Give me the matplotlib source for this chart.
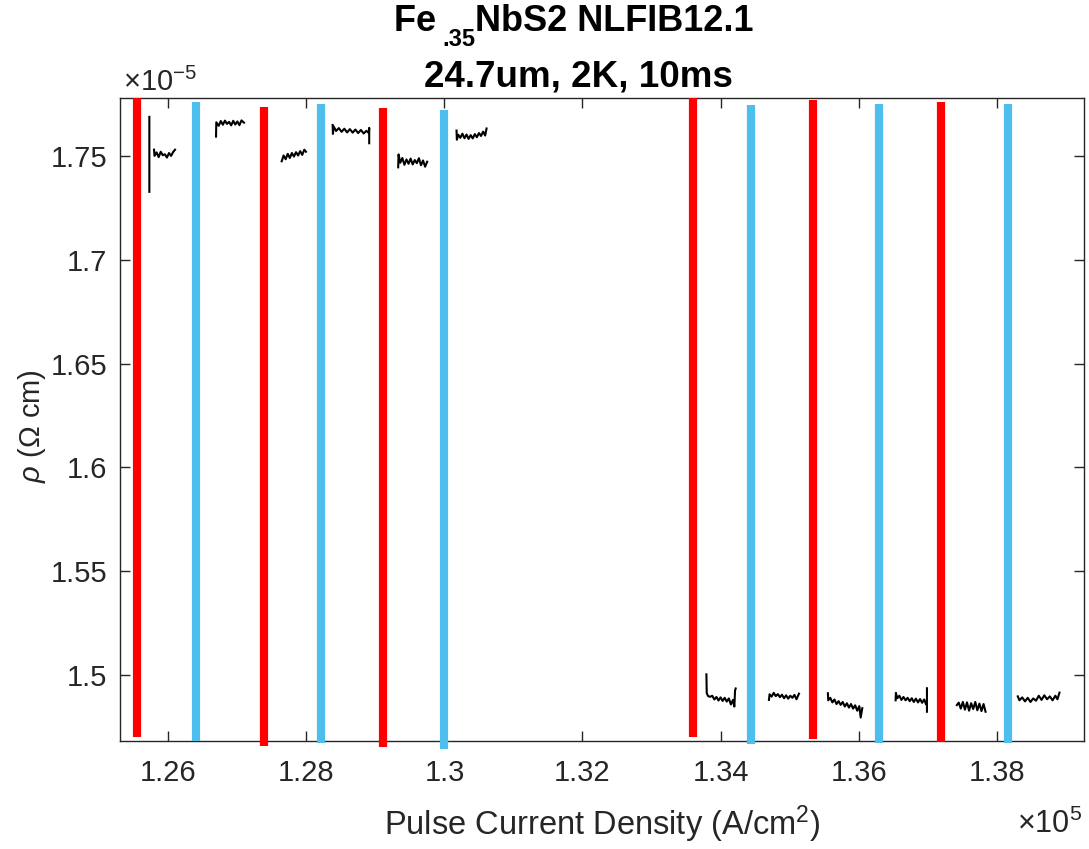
# Fe.35NbS2 pulse switching: resistivity vs pulse current density

import numpy as np
import matplotlib.pyplot as plt
from matplotlib.ticker import FuncFormatter

plt.rcParams['font.family'] = ['Liberation Sans', 'DejaVu Sans']
plt.rcParams['mathtext.fontset'] = 'custom'
plt.rcParams['mathtext.rm'] = 'Liberation Sans'
plt.rcParams['mathtext.it'] = 'Liberation Sans:italic'
plt.rcParams['mathtext.bf'] = 'Liberation Sans:bold'

nan = np.nan

# pulse markers (x in A/cm^2, rho in 1e-5 Ohm cm)
pulse_pos_x = [125540, 127386, 129116, 133600, 135338, 137199]
pulse_pos_top = [1.7779, 1.7737, 1.7733, 1.7779, 1.7771, 1.7759]
pulse_pos_bot = [1.4700, 1.4659, 1.4655, 1.4700, 1.4693, 1.4679]

pulse_neg_x = [126398, 128218, 129996, 134434, 136300, 138165]
pulse_neg_top = [1.7760, 1.7752, 1.7722, 1.7746, 1.7752, 1.7752]
pulse_neg_bot = [1.4682, 1.4674, 1.4642, 1.4668, 1.4674, 1.4674]

# resistivity readings between pulses
t1_x = [125725, 125725, nan, 125793, 125800, 125830, 125860, 125890, 125920, 125950, 125980, 126010, 126040, 126070, 126097]
t1_y = [1.7688, 1.7327, nan, 1.7530, 1.7500, 1.7517, 1.7494, 1.7520, 1.7503, 1.7508, 1.7492, 1.7514, 1.7500, 1.7519, 1.7530]

t2_x = [126691, 126695, 126730, 126760, 126790, 126820, 126850, 126880, 126910, 126940, 126970, 127000, 127030, 127060, 127096]
t2_y = [1.7593, 1.7662, 1.7645, 1.7668, 1.7650, 1.7670, 1.7654, 1.7664, 1.7647, 1.7669, 1.7651, 1.7666, 1.7648, 1.7671, 1.7660]

t3_x = [127642, 127670, 127700, 127730, 127760, 127790, 127820, 127850, 127880, 127910, 127940, 127970, 127994]
t3_y = [1.7474, 1.7502, 1.7484, 1.7510, 1.7490, 1.7514, 1.7497, 1.7518, 1.7502, 1.7523, 1.7505, 1.7530, 1.7520]

t4_x = [128380, 128385, 128395, 128430, 128470, 128510, 128550, 128590, 128630, 128670, 128710, 128750, 128790, 128830, 128870, 128905, 128910, 128910]
t4_y = [1.7649, 1.7606, 1.7642, 1.7620, 1.7634, 1.7616, 1.7631, 1.7613, 1.7629, 1.7612, 1.7627, 1.7610, 1.7625, 1.7608, 1.7621, 1.7610, 1.7635, 1.7561]

t5_x = [129330, 129335, 129360, 129390, 129420, 129450, 129480, 129510, 129540, 129570, 129600, 129630, 129660, 129690, 129720, 129750]
t5_y = [1.7445, 1.7507, 1.7467, 1.7490, 1.7457, 1.7483, 1.7462, 1.7487, 1.7459, 1.7480, 1.7465, 1.7489, 1.7455, 1.7478, 1.7448, 1.7472]

t6_x = [130175, 130180, 130200, 130230, 130260, 130290, 130320, 130350, 130380, 130410, 130440, 130470, 130500, 130530, 130560, 130590, 130610]
t6_y = [1.7622, 1.7578, 1.7602, 1.7587, 1.7607, 1.7585, 1.7603, 1.7582, 1.7600, 1.7584, 1.7605, 1.7590, 1.7610, 1.7596, 1.7617, 1.7598, 1.7632]

t7_x = [133795, 133800, 133820, 133850, 133880, 133910, 133940, 133970, 134000, 134030, 134060, 134090, 134120, 134150, 134180, 134200, 134210, 134219]
t7_y = [1.5003, 1.4912, 1.4898, 1.4895, 1.4900, 1.4882, 1.4894, 1.4877, 1.4892, 1.4875, 1.4890, 1.4872, 1.4887, 1.4858, 1.4880, 1.4848, 1.4925, 1.4935]

t8_x = [134701, 134710, 134740, 134770, 134800, 134830, 134860, 134890, 134920, 134950, 134980, 135010, 135040, 135070, 135100, 135136]
t8_y = [1.4880, 1.4907, 1.4896, 1.4914, 1.4898, 1.4908, 1.4893, 1.4905, 1.4888, 1.4902, 1.4886, 1.4900, 1.4890, 1.4904, 1.4883, 1.4910]

t9_x = [135555, 135560, 135590, 135620, 135650, 135680, 135710, 135740, 135770, 135800, 135830, 135860, 135890, 135920, 135950, 135980, 136010, 136030, 136053]
t9_y = [1.4912, 1.4878, 1.4890, 1.4868, 1.4882, 1.4860, 1.4874, 1.4856, 1.4870, 1.4848, 1.4864, 1.4843, 1.4860, 1.4838, 1.4854, 1.4828, 1.4850, 1.4795, 1.4840]

t10_x = [136536, 136540, 136560, 136590, 136620, 136650, 136680, 136710, 136740, 136770, 136800, 136830, 136860, 136890, 136920, 136950, 136975, nan, 136990, 136990]
t10_y = [1.4878, 1.4914, 1.4888, 1.4900, 1.4880, 1.4894, 1.4878, 1.4890, 1.4874, 1.4888, 1.4870, 1.4886, 1.4868, 1.4884, 1.4866, 1.4882, 1.4860, nan, 1.4936, 1.4823]

t11_x = [137423, 137450, 137480, 137510, 137540, 137570, 137600, 137630, 137660, 137690, 137720, 137750, 137780, 137810, 137839]
t11_y = [1.4855, 1.4867, 1.4838, 1.4870, 1.4833, 1.4868, 1.4828, 1.4864, 1.4836, 1.4870, 1.4830, 1.4862, 1.4826, 1.4860, 1.4823]

t12_x = [138306, 138330, 138370, 138410, 138450, 138490, 138530, 138570, 138610, 138650, 138690, 138730, 138770, 138810, 138850, 138880, 138910]
t12_y = [1.4897, 1.4878, 1.4892, 1.4873, 1.4890, 1.4870, 1.4887, 1.4876, 1.4900, 1.4880, 1.4902, 1.4883, 1.4897, 1.4878, 1.4900, 1.4883, 1.4915]

traces = [(t1_x, t1_y), (t2_x, t2_y), (t3_x, t3_y), (t4_x, t4_y), (t5_x, t5_y), (t6_x, t6_y),
          (t7_x, t7_y), (t8_x, t8_y), (t9_x, t9_y), (t10_x, t10_y), (t11_x, t11_y), (t12_x, t12_y)]

x_ticks = [126000, 128000, 130000, 132000, 134000, 136000, 138000]
y_ticks = [1.5, 1.55, 1.6, 1.65, 1.7, 1.75]

axis_col = '#262626'
W, H = 1089, 849

fig = plt.figure(figsize=(W / 100, H / 100), dpi=100)
ax = fig.add_axes([0.1102, 0.1272, 0.8852, 0.7574])

# pulse lines (drawn past the axes like in the original)
ax.vlines(pulse_pos_x, pulse_pos_bot, pulse_pos_top, colors='#FF0000', linewidth=5.9, capstyle='butt', clip_on=False, zorder=3)
ax.vlines(pulse_neg_x, pulse_neg_bot, pulse_neg_top, colors='#4DBEEE', linewidth=5.9, capstyle='butt', clip_on=False, zorder=3)

for tx, ty in traces:
    ax.plot(tx, ty, color='black', linewidth=1.5, zorder=4)

ax.set_xlim(125300, 139265)
ax.set_ylim(1.4682, 1.7779)
ax.set_xticks(x_ticks)
ax.set_yticks(y_ticks)
ax.xaxis.set_major_formatter(FuncFormatter(lambda v, p: '%g' % (v / 1e5)))
ax.yaxis.set_major_formatter(FuncFormatter(lambda v, p: '%g' % v))

ax.tick_params(direction='in', length=7, width=1, colors=axis_col, labelsize=21,
               top=True, right=True, pad=9)
ax.tick_params(axis='x', pad=13)
for s in ax.spines.values():
    s.set_color(axis_col)
    s.set_linewidth(1)

# labels
ax.set_xlabel('Pulse Current Density (A/cm$^2$)', fontsize=23.5, color=axis_col)
ax.xaxis.label.set_va('baseline')
ax.xaxis.set_label_coords(0.5, -0.146)
ax.set_ylabel(r'$\rho$ (Ω cm)', fontsize=21, color=axis_col)
ax.yaxis.label.set_va('center')
ax.yaxis.set_label_coords(-0.091, 0.49)

# exponent labels
ax.text(0.003, 1.011, r'$\times$10$^{-5}$', transform=ax.transAxes, fontsize=21,
        color=axis_col, ha='left', va='baseline')
ax.text(0.9305, -0.143, r'$\times$10$^{5}$', transform=ax.transAxes, fontsize=22,
        color=axis_col, ha='left', va='baseline')

# title, subscript placed by hand so it drops like the original
renderer = fig.canvas.get_renderer()
title_parts = ['Fe ', '.35', 'NbS2 NLFIB12.1']
part_size = [26, 17, 26]
part_drop = [0, 15, 0]
part_txt = [fig.text(0, 0, s, fontsize=fs, fontweight='bold', ha='left', va='baseline')
            for s, fs in zip(title_parts, part_size)]
part_w = [t.get_window_extent(renderer).width for t in part_txt]
part_w[0] -= 4
xpos = 574 - sum(part_w) / 2
for t, w, d in zip(part_txt, part_w, part_drop):
    t.set_position((xpos / W, 1 - (31 + d) / H))
    xpos += w
fig.text(578 / W, 1 - 87 / H, '24.7um, 2K, 10ms', ha='center', va='baseline',
         fontsize=26.5, fontweight='bold')

fig.savefig('out.png', dpi=100)
